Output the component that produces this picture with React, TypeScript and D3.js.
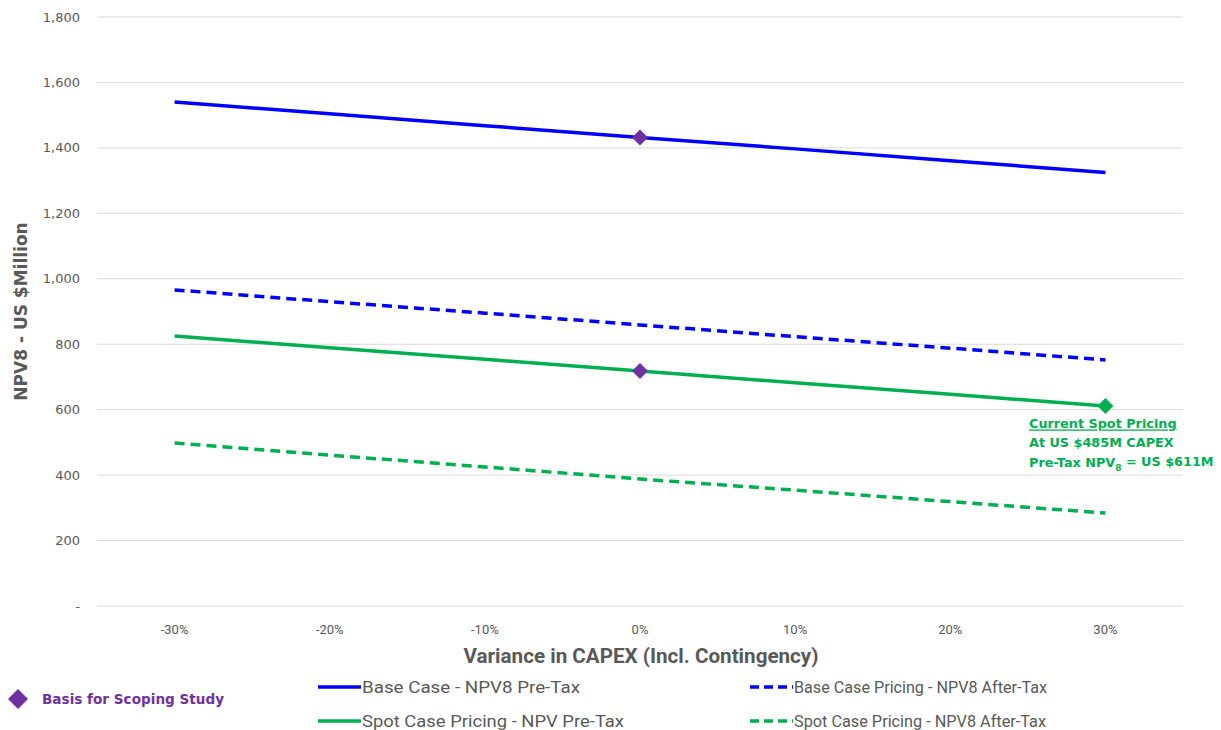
import React from "react";
import * as d3 from "d3";

// Sensitivity of NPV8 to CAPEX variance
const categories = ["-30%", "-20%", "-10%", "0%", "10%", "20%", "30%"];
const basePreTax = [1540, 1504, 1468, 1432, 1397, 1361, 1325];
const baseAfterTax = [966, 930, 895, 859, 823, 788, 752];
const spotPreTax = [825, 789, 754, 718, 682, 647, 611];
const spotAfterTax = [498, 461, 425, 388, 354, 319, 284];
const yTicks = [0, 200, 400, 600, 800, 1000, 1200, 1400, 1600, 1800];

// Highlighted points: [category, value]
const scopingPoints: [string, number][] = [["0%", 1432], ["0%", 718]];
const currentSpotPoint: [string, number] = ["30%", 611];

const W = 1221;
const H = 730;
const plot = { left: 97, right: 1183, top: 17, bottom: 606 };

const BLUE = "#0000FF";
const GREEN = "#00B050";
const PURPLE = "#7030A0";
const GREY = "#595959";
const NARROW = "'Liberation Sans Narrow', 'Roboto', sans-serif";
const BOLD_FONT = "'DejaVu Sans', Verdana, sans-serif";

export default function App() {
  const x = d3.scaleBand<string>().domain(categories).range([plot.left, plot.right]);
  const xc = (c: string) => (x(c) as number) + x.bandwidth() / 2;
  const y = d3.scaleLinear().domain([0, 1800]).range([plot.bottom, plot.top]);

  const line = d3
    .line<number>()
    .x((_, i) => xc(categories[i]))
    .y((d) => y(d));

  const series = [
    { name: "Base Case - NPV8 Pre-Tax", data: basePreTax, color: BLUE, dash: undefined },
    { name: "Base Case Pricing - NPV8 After-Tax", data: baseAfterTax, color: BLUE, dash: "10 6" },
    { name: "Spot Case Pricing - NPV Pre-Tax", data: spotPreTax, color: GREEN, dash: undefined },
    { name: "Spot Case Pricing - NPV8 After-Tax", data: spotAfterTax, color: GREEN, dash: "10 6" },
  ];

  // legend slot positions and label widths
  const legendPos = [
    { x: 318, y: 687, w: 218 },
    { x: 750, y: 687, w: 253 },
    { x: 318, y: 721, w: 262 },
    { x: 750, y: 721, w: 252 },
  ];

  const diamond = (cx: number, cy: number, r: number) =>
    `M${cx},${cy - r}L${cx + r},${cy}L${cx},${cy + r}L${cx - r},${cy}Z`;

  const spotX = xc(currentSpotPoint[0]);
  const spotY = y(currentSpotPoint[1]);

  return (
    <svg
      width={W}
      height={H}
      style={{ position: "absolute", left: 0, top: 0, background: "#fff" }}
    >
      {/* gridlines */}
      {yTicks.map((t) => (
        <line
          key={t}
          x1={plot.left}
          x2={plot.right}
          y1={y(t)}
          y2={y(t)}
          stroke="#D9D9D9"
          strokeWidth={1}
        />
      ))}
      {/* y tick labels */}
      {yTicks.map((t) => (
        <text
          key={"l" + t}
          x={80}
          y={y(t)}
          dy="0.35em"
          textAnchor="end"
          fontFamily={BOLD_FONT}
          fontSize={13}
          fill={GREY}
        >
          {t === 0 ? "-" : d3.format(",")(t)}
        </text>
      ))}
      {/* x tick labels */}
      {categories.map((c) => (
        <text
          key={c}
          x={xc(c)}
          y={629}
          dy="0.35em"
          textAnchor="middle"
          fontFamily={NARROW}
          fontSize={13}
          fill={GREY}
        >
          {c}
        </text>
      ))}
      {/* axis titles */}
      <text
        x={641}
        y={656}
        dy="0.35em"
        textAnchor="middle"
        fontFamily={NARROW}
        fontWeight="bold"
        fontSize={20}
        fill={GREY}
        textLength={355}
        lengthAdjust="spacingAndGlyphs"
      >
        Variance in CAPEX (Incl. Contingency)
      </text>
      <text
        transform={`translate(21,${y(900)}) rotate(-90)`}
        textAnchor="middle"
        dy="0.35em"
        fontFamily={BOLD_FONT}
        fontWeight="bold"
        fontSize={17}
        fill={GREY}
      >
        NPV8 - US $Million
      </text>

      {/* series lines */}
      {series.map((s) => (
        <path
          key={s.name}
          d={line(s.data) as string}
          fill="none"
          stroke={s.color}
          strokeWidth={3.5}
          strokeDasharray={s.dash}
        />
      ))}

      {/* markers */}
      {scopingPoints.map(([c, v], i) => (
        <path key={"sp" + i} d={diamond(xc(c), y(v), 8)} fill={PURPLE} />
      ))}
      <path d={diamond(spotX, spotY, 8)} fill={GREEN} />

      {/* annotation */}
      <g fontFamily={BOLD_FONT} fontWeight="bold" fontSize={12.8} fill={GREEN}>
        <text x={1029} y={424} dy="0.35em" textDecoration="underline">
          Current Spot Pricing
        </text>
        <text x={1029} y={443} dy="0.35em">
          At US $485M CAPEX
        </text>
        <text x={1029} y={463} dy="0.35em">
          Pre-Tax NPV
          <tspan fontSize={9} dy="0.35em">8</tspan>
          <tspan dy="-0.35em"> = US $611M</tspan>
        </text>
      </g>

      {/* legend */}
      {series.map((s, i) => {
        const p = legendPos[i];
        return (
          <g key={"lg" + i}>
            <line
              x1={p.x}
              x2={p.x + 43}
              y1={p.y}
              y2={p.y}
              stroke={s.color}
              strokeWidth={3.5}
              strokeDasharray={s.dash ? "9 5" : undefined}
            />
            <text
              x={p.x + 44}
              y={p.y}
              dy="0.35em"
              fontFamily={NARROW}
              fontSize={16}
              fill={GREY}
              textLength={p.w}
              lengthAdjust="spacingAndGlyphs"
            >
              {s.name}
            </text>
          </g>
        );
      })}
      <path d={diamond(18, 699, 10)} fill={PURPLE} />
      <text
        x={42}
        y={699}
        dy="0.35em"
        fontFamily={BOLD_FONT}
        fontWeight="bold"
        fontSize={13.6}
        fill={PURPLE}
      >
        Basis for Scoping Study
      </text>
    </svg>
  );
}
